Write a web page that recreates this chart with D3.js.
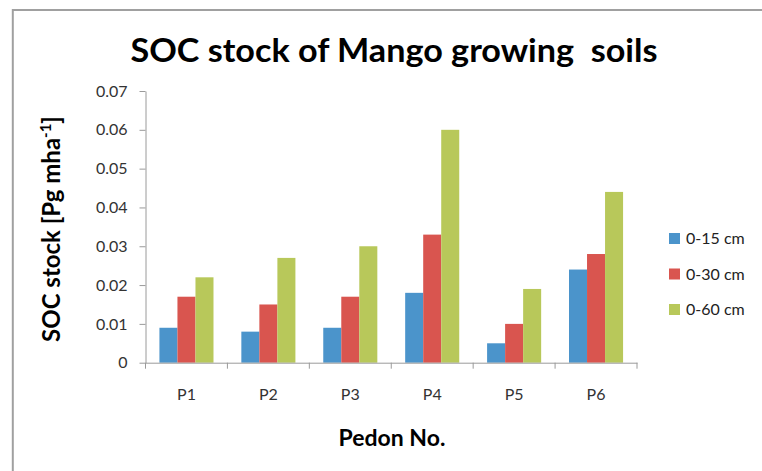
<!DOCTYPE html>
<html>
<head>
<meta charset="utf-8">
<script src="https://cdn.jsdelivr.net/npm/d3@7"></script>
<style>
  html, body { margin: 0; padding: 0; background: #fff; overflow: hidden; }
  svg { display: block; }
  text { font-family: Lato, "Open Sans", sans-serif; }
</style>
</head>
<body>
<svg id="chart" width="762" height="471"></svg>
<script>
// ---- data ----
const categories = ["P1", "P2", "P3", "P4", "P5", "P6"];
const seriesNames = ["0-15 cm", "0-30 cm", "0-60 cm"];
const values0_15 = [0.009, 0.008, 0.009, 0.018, 0.005, 0.024];
const values0_30 = [0.017, 0.015, 0.017, 0.033, 0.010, 0.028];
const values0_60 = [0.022, 0.027, 0.030, 0.060, 0.019, 0.044];
const yTickValues = [0, 0.01, 0.02, 0.03, 0.04, 0.05, 0.06, 0.07];
const seriesColors = ["#4B94CB", "#D9554F", "#B8C85A"];
const titleText = "SOC stock of Mango growing  soils";
const xTitleText = "Pedon No.";

const seriesValues = [values0_15, values0_30, values0_60];

const svg = d3.select("#chart");

// outer chart border (left and top edges visible)
svg.append("path")
  .attr("d", "M12.8,471 L12.8,10 L762,10")
  .attr("fill", "none").attr("stroke", "#a0a0a0").attr("stroke-width", 2);

const plot = { left: 145.5, right: 637, top: 91, bottom: 362.7 };

const x0 = d3.scaleBand().domain(categories)
  .range([plot.left, plot.right]).paddingInner(0.34).paddingOuter(0.17);
const x1 = d3.scaleBand().domain(seriesNames).range([0, x0.bandwidth()]);
const y = d3.scaleLinear().domain([0, 0.07]).range([plot.bottom, plot.top]);

const axisColor = "#9a9a9a";

// bars
const groups = svg.append("g").selectAll("g")
  .data(categories).join("g")
  .attr("transform", d => `translate(${x0(d)},0)`);
groups.selectAll("rect")
  .data((c, i) => seriesNames.map((s, k) => ({ s, k, v: seriesValues[k][i] })))
  .join("rect")
  .attr("x", d => x1(d.s))
  .attr("width", x1.bandwidth())
  .attr("y", d => y(d.v))
  .attr("height", d => y(0) - y(d.v))
  .attr("fill", d => seriesColors[d.k]);

// y axis
const yAxis = svg.append("g")
  .attr("transform", `translate(${plot.left},0)`)
  .call(d3.axisLeft(y).tickValues(yTickValues)
    .tickFormat(d => d === 0 ? "0" : d3.format(".2f")(d))
    .tickSize(6).tickSizeOuter(0).tickPadding(12));
yAxis.select(".domain").attr("stroke", axisColor);
yAxis.selectAll(".tick line").attr("stroke", axisColor);
yAxis.selectAll("text").attr("font-size", 16).attr("fill", "#333")
  .attr("font-family", "Lato, sans-serif");

// x axis
const xAxis = svg.append("g")
  .attr("transform", `translate(0,${plot.bottom})`)
  .call(d3.axisBottom(x0).tickSize(0).tickSizeOuter(0).tickPadding(26));
xAxis.select(".domain").attr("stroke", axisColor);
xAxis.selectAll("text").attr("font-size", 16).attr("fill", "#333")
  .attr("font-family", "Lato, sans-serif");
const gap = (x0.step() - x0.bandwidth()) / 2;
const boundaries = categories.map(c => x0(c) - gap)
  .concat([x0(categories[categories.length - 1]) + x0.bandwidth() + gap]);
xAxis.selectAll("line.bound").data(boundaries).join("line")
  .attr("class", "bound")
  .attr("x1", d => d).attr("x2", d => d)
  .attr("y1", 0).attr("y2", 6)
  .attr("stroke", axisColor);

// title
svg.append("text")
  .attr("x", 394).attr("y", 62)
  .attr("text-anchor", "middle")
  .attr("font-size", 33).attr("font-weight", "bold")
  .style("white-space", "pre")
  .attr("textLength", 527).attr("lengthAdjust", "spacingAndGlyphs")
  .attr("fill", "#000")
  .text(titleText);

// y title
const yt = svg.append("text")
  .attr("transform", "translate(60,229) rotate(-90)")
  .attr("text-anchor", "middle")
  .attr("font-size", 24).attr("font-weight", "bold")
  .attr("fill", "#000");
yt.append("tspan").text("SOC stock [Pg mha");
yt.append("tspan").attr("font-size", 15).attr("dy", -9).text("-1");
yt.append("tspan").attr("dy", 9).text("]");

// x title
svg.append("text")
  .attr("x", 392).attr("y", 446)
  .attr("text-anchor", "middle")
  .attr("font-size", 23).attr("font-weight", "bold")
  .attr("fill", "#000")
  .text(xTitleText);

// legend
const legend = svg.append("g");
const lg = legend.selectAll("g").data(seriesNames).join("g")
  .attr("transform", (d, i) => `translate(669,${233 + i * 35.5})`);
lg.append("rect").attr("width", 11).attr("height", 11)
  .attr("fill", (d, i) => seriesColors[i]);
lg.append("text").attr("x", 17).attr("y", 5.5).attr("dy", "0.35em")
  .attr("font-size", 16).attr("fill", "#222")
  .text(d => d);
</script>
</body>
</html>
